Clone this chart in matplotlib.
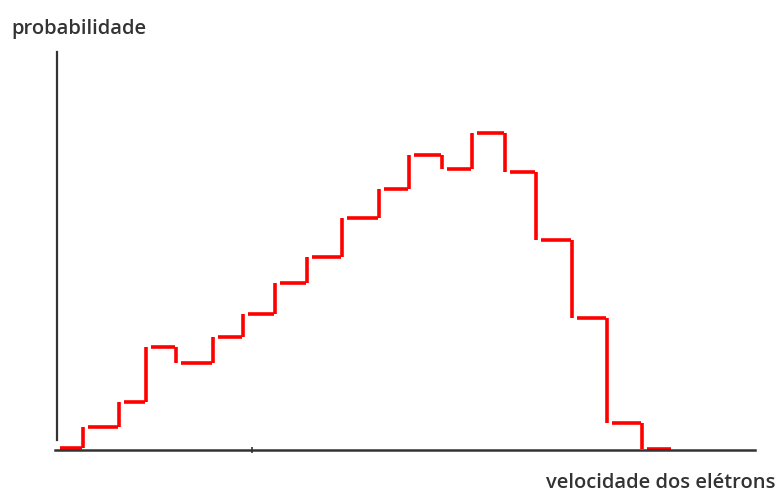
import numpy as np
import matplotlib
matplotlib.use('Agg')
import matplotlib.pyplot as plt

# bin edges of the velocity histogram (arbitrary units)
edges = [0, 28, 64, 91, 121, 158, 188, 220, 252, 287, 324, 354, 387, 417, 450, 481, 517, 552, 587, 617]
# probability of each bin (arbitrary units)
prob = [2, 23, 48, 103, 87, 113, 136, 167, 193, 232, 261, 295, 281, 317, 278, 210, 132, 27, 1]

red = '#ff0000'
axis_col = '#333333'

fig = plt.figure(figsize=(7.77, 4.93), dpi=100)
# axes box placed to match the drawing area of the picture
ax = fig.add_axes([55/777, 43/493, 700/777, 398/493])
ax.set_xlim(0, 700)
ax.set_ylim(0, 398)

#draw the horizontal steps with a small gap at their left end, like a hand drawing
left = np.array(edges[:-1]) + 5
right = np.array(edges[1:]) - 1
ax.hlines(prob, left, right, colors=red, linewidth=2.6, clip_on=False)
#vertical risers between neighbouring bins
for k in range(len(prob) - 1):
    lo = min(prob[k], prob[k+1])
    hi = max(prob[k], prob[k+1])
    ax.vlines(edges[k+1], lo, hi, colors=red, linewidth=2.6, clip_on=False)

#axes as two plain lines
for s in ['top', 'right']:
    ax.spines[s].set_visible(False)
ax.spines['left'].set_position(('data', 2))
ax.spines['left'].set_bounds(10, 398)
ax.spines['left'].set_linewidth(1.6)
ax.spines['left'].set_color(axis_col)
ax.spines['bottom'].set_linewidth(1.8)
ax.spines['bottom'].set_color(axis_col)
ax.set_yticks([])
ax.set_xticks([197])
ax.set_xticklabels([])
ax.tick_params(axis='x', direction='inout', length=4, width=1.2, color=axis_col)

fig.text(11/777, 1 - 29/493, 'probabilidade', fontsize=14.5, family='Open Sans',
         weight='semibold', color=axis_col, va='center', ha='left')
fig.text(775/777, 1 - 483/493, 'velocidade dos elétrons', fontsize=14.5, family='Open Sans',
         weight='semibold', color=axis_col, va='center', ha='right')

plt.savefig('out.png', dpi=100)
